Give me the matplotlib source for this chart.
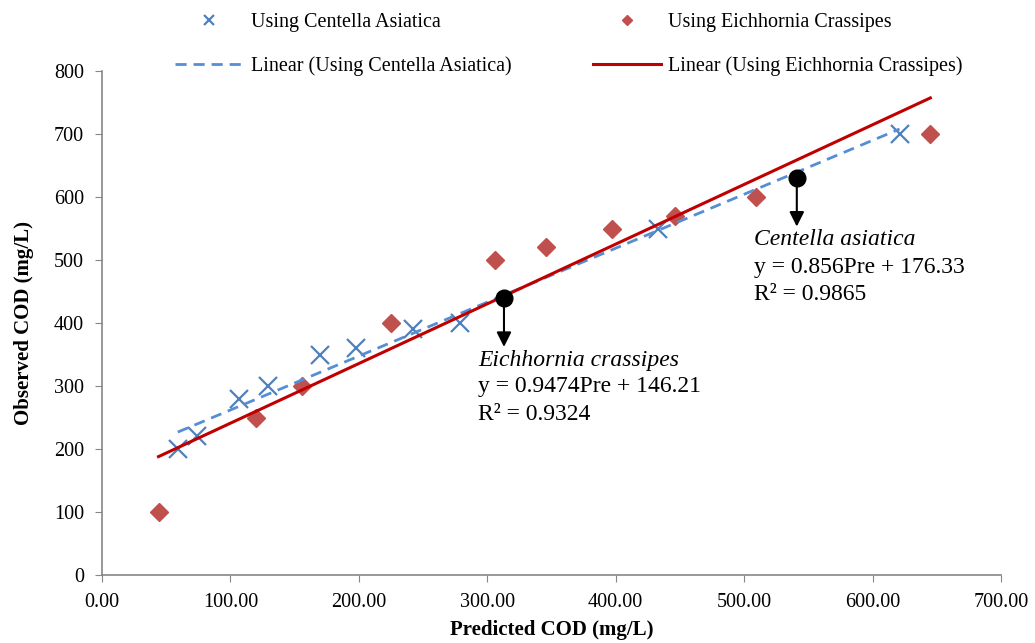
import numpy as np
import matplotlib
matplotlib.use("Agg")
import matplotlib.pyplot as plt

# Centella asiatica (x markers)
ca_pred = [59, 74, 107, 129, 170, 198, 242, 279, 433, 621]
ca_obs = [200, 220, 280, 300, 350, 360, 390, 400, 550, 700]

# Eichhornia crassipes (diamonds)
ec_pred = [44, 120, 156, 225, 306, 346, 397, 446, 509, 645]
ec_obs = [100, 250, 300, 400, 500, 520, 550, 570, 600, 700]

# trendline equations from the chart
ca_fit = (0.856, 176.33)
ec_fit = (0.9474, 146.21)

xticks = [0, 100, 200, 300, 400, 500, 600, 700]
yticks = [0, 100, 200, 300, 400, 500, 600, 700, 800]

plt.rcParams["font.family"] = ["Liberation Serif", "DejaVu Serif"]

W, H = 1035, 643
fig = plt.figure(figsize=(W / 100, H / 100), dpi=100)
ax = fig.add_axes([102 / W, 1 - 575 / H, 899 / W, 504 / H])

ax.plot(ca_pred, ca_obs, linestyle="none", marker="x", markersize=13,
        markeredgewidth=1.6, color="#4F81BD", label="Using Centella Asiatica")
ax.plot(ec_pred, ec_obs, linestyle="none", marker="D", markersize=9,
        color="#C0504D", label="Using Eichhornia Crassipes")

xa = np.array([min(ca_pred), max(ca_pred)])
ax.plot(xa, ca_fit[0] * xa + ca_fit[1], linestyle=(0, (4, 2.5)), linewidth=2,
        color="#558ED5", label="Linear (Using Centella Asiatica)")
xe = np.array([min(ec_pred), max(ec_pred)])
ax.plot(xe, ec_fit[0] * xe + ec_fit[1], linewidth=2.2, color="#C00000",
        label="Linear (Using Eichhornia Crassipes)")

# annotation markers with arrows
for (px, py, ty) in [(313, 440, 362), (541, 630, 553)]:
    ax.annotate("", xy=(px, ty), xytext=(px, py),
                arrowprops=dict(arrowstyle="-|>", color="black", lw=1.5,
                                mutation_scale=22, shrinkA=0, shrinkB=0),
                zorder=5)
    ax.plot(px, py, marker="o", markersize=12, color="black", zorder=6)

fs = 17
ax.text(293, 340, "Eichhornia crassipes", fontsize=fs, style="italic", va="center")
ax.text(293, 299, "y = 0.9474Pre + 146.21", fontsize=fs, va="center")
ax.text(293, 255, "R² = 0.9324", fontsize=fs, va="center")
ax.text(508, 532, "Centella asiatica", fontsize=fs, style="italic", va="center")
ax.text(508, 488, "y = 0.856Pre + 176.33", fontsize=fs, va="center")
ax.text(508, 446, "R² = 0.9865", fontsize=fs, va="center")

ax.set_xlim(0, 700)
ax.set_ylim(0, 800)
ax.set_xticks(xticks)
ax.set_xticklabels([f"{v:.2f}" for v in xticks])
ax.set_yticks(yticks)
ax.tick_params(labelsize=14.5, color="#868686", length=5, direction="out")
ax.tick_params(axis="x", pad=8)
ax.tick_params(axis="y", pad=8)
for s in ["top", "right"]:
    ax.spines[s].set_visible(False)
for s in ["left", "bottom"]:
    ax.spines[s].set_color("#868686")
    ax.spines[s].set_linewidth(1.2)

ax.set_xlabel("Predicted COD (mg/L)", fontsize=15, fontweight="bold", labelpad=6)
ax.set_ylabel("Observed COD (mg/L)", fontsize=15, fontweight="bold", labelpad=14)

h, l = ax.get_legend_handles_labels()
order = [0, 2, 1, 3]
fig.legend([h[i] for i in order], [l[i] for i in order], ncol=2,
           loc="upper left", bbox_to_anchor=(175 / W, 1 - 13 / H), frameon=False,
           fontsize=14.5, handlelength=3.4, handletextpad=0.35, columnspacing=4.05,
           labelspacing=1.2, markerscale=0.6, borderpad=0, borderaxespad=0)

fig.savefig("out.png", dpi=100)
